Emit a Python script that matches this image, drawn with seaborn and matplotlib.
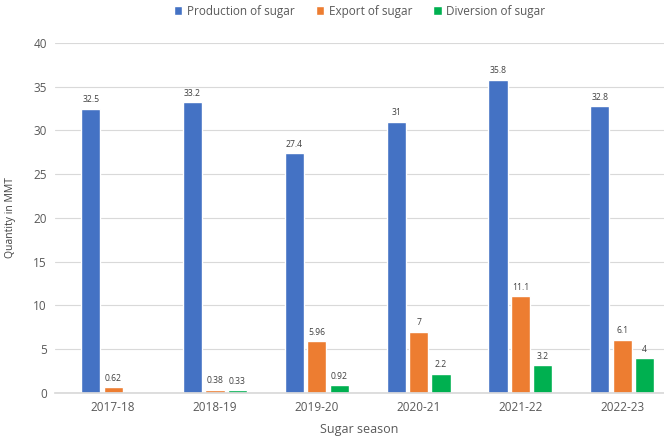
import numpy as np
import pandas as pd
import matplotlib
matplotlib.use("Agg")
import matplotlib.pyplot as plt
import seaborn as sns

seasons = ["2017-18", "2018-19", "2019-20", "2020-21", "2021-22", "2022-23"]
production = [32.5, 33.2, 27.4, 31, 35.8, 32.8]
export = [0.62, 0.38, 5.96, 7, 11.1, 6.1]
diversion = [np.nan, 0.33, 0.92, 2.2, 3.2, 4]
series = ["Production of sugar", "Export of sugar", "Diversion of sugar"]
colors = ["#4472C4", "#ED7D31", "#00B050"]

df = pd.DataFrame({
    "season": seasons * 3,
    "series": [series[0]] * 6 + [series[1]] * 6 + [series[2]] * 6,
    "value": production + export + diversion,
})

sns.set_theme(style="white")
plt.rcParams["font.family"] = ["Open Sans", "DejaVu Sans"]

fig = plt.figure(figsize=(6.64, 4.47), dpi=100)
ax = fig.add_axes([0.083, 0.121, 0.917, 0.783])

sns.barplot(data=df, x="season", y="value", hue="series", order=seasons,
            hue_order=series, palette=colors, width=0.66, gap=0.14,
            saturation=1, ax=ax, legend=True)

# value labels above each drawn bar
for cont in ax.containers:
    for bar in cont:
        if bar is None:
            continue
        h = bar.get_height()
        if np.isnan(h):
            continue
        ax.annotate(f"{h:g}", (bar.get_x() + bar.get_width() / 2, h),
                    xytext=(0, 3), textcoords="offset points",
                    ha="center", va="bottom", fontsize=6.2, color="#404040")

ax.set_ylim(0, 40)
ax.set_yticks(range(0, 41, 5))
ax.set_xlim(-0.57, 5.41)
ax.grid(axis="y", color="#D9D9D9", linewidth=0.8)
ax.set_axisbelow(True)
for s in ["top", "right", "left"]:
    ax.spines[s].set_visible(False)
ax.spines["bottom"].set_color("#D9D9D9")
ax.tick_params(axis="both", length=0, labelsize=8.5, labelcolor="#595959", pad=6)
ax.set_xlabel("Sugar season", fontsize=9, color="#595959", labelpad=6)
ax.set_ylabel("Quantity in MMT", fontsize=7.5, color="#404040", labelpad=12)

ax.legend(loc="upper center", bbox_to_anchor=(0.5, 1.14), ncol=3, frameon=False,
          fontsize=8.5, handlelength=0.7, handleheight=0.7, handletextpad=0.4,
          columnspacing=1.8, labelcolor="#595959")

fig.savefig("out.png", dpi=100)
